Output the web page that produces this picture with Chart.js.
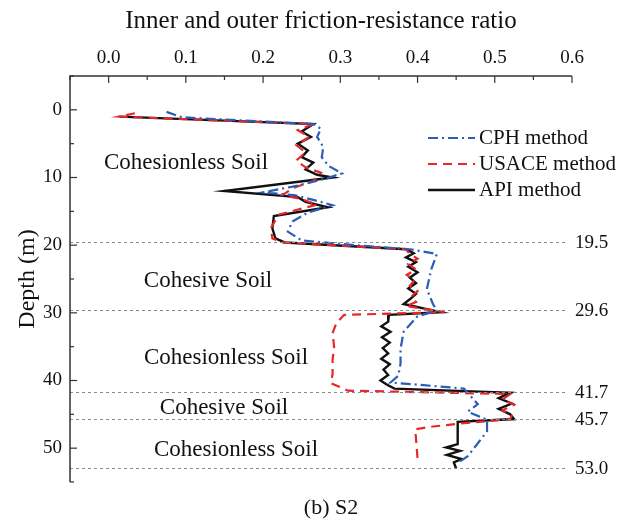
<!DOCTYPE html>
<html>
<head>
<meta charset="utf-8">
<script src="https://cdn.jsdelivr.net/npm/chart.js@4.4.1/dist/chart.umd.min.js"></script>
<style>
  html, body { margin: 0; padding: 0; background: #fff; }
  #wrap { width: 622px; height: 520px; }
</style>
</head>
<body>
<div id="wrap"><canvas id="chart" width="622" height="520"></canvas></div>
<script>
// depth (m) and friction-resistance ratio
const cphDepth = [0.3, 1.1, 2.1, 2.8, 4.0, 5.5, 7.0, 8.3, 9.4, 10.2, 11.2, 12.2, 12.6, 13.3, 14.1, 15.2, 16.5, 18.0, 19.3, 20.0, 20.6, 21.3, 23.5, 26.5, 28.7, 29.7, 30.5, 32.8, 35.3, 37.5, 39.3, 40.3, 40.8, 41.2, 43.5, 44.6, 45.8, 47.5, 51.2, 52.2];
const cphRatio = [0.075, 0.095, 0.265, 0.275, 0.27, 0.278, 0.276, 0.285, 0.302, 0.28, 0.245, 0.2, 0.24, 0.265, 0.29, 0.258, 0.238, 0.232, 0.25, 0.32, 0.39, 0.425, 0.418, 0.412, 0.42, 0.425, 0.4, 0.382, 0.378, 0.378, 0.375, 0.365, 0.42, 0.46, 0.478, 0.465, 0.49, 0.49, 0.465, 0.452];

const usaceDepth = [0.5, 1.0, 1.6, 2.1, 3.0, 4.0, 5.2, 6.3, 7.5, 8.5, 9.3, 10.5, 11.5, 12.6, 13.2, 14.0, 15.5, 17.5, 19.0, 19.6, 20.6, 21.3, 22.0, 22.8, 23.6, 24.4, 25.2, 26.0, 26.8, 27.6, 28.4, 29.0, 29.9, 30.3, 31.5, 33.0, 35.0, 37.0, 39.0, 40.4, 41.5, 42.0, 42.8, 43.6, 44.4, 45.2, 45.7, 46.4, 46.8, 47.2, 51.5];
const usaceRatio = [0.034, 0.014, 0.15, 0.265, 0.245, 0.26, 0.243, 0.255, 0.243, 0.255, 0.275, 0.265, 0.24, 0.225, 0.25, 0.27, 0.22, 0.21, 0.212, 0.225, 0.385, 0.39, 0.4, 0.388, 0.398, 0.386, 0.396, 0.39, 0.4, 0.392, 0.398, 0.385, 0.435, 0.305, 0.295, 0.29, 0.292, 0.29, 0.29, 0.288, 0.31, 0.52, 0.51, 0.525, 0.51, 0.522, 0.52, 0.452, 0.42, 0.397, 0.4];

const apiDepth = [1.0, 1.6, 2.1, 3.2, 4.0, 5.0, 6.0, 7.0, 7.8, 8.8, 9.6, 10.0, 12.0, 12.9, 13.6, 14.4, 15.7, 17.5, 19.0, 19.6, 20.6, 21.2, 21.8, 22.5, 23.2, 24.0, 24.8, 25.6, 26.4, 27.2, 28.0, 28.7, 29.9, 30.3, 31.3, 32.0, 32.8, 33.6, 34.4, 35.2, 36.0, 36.8, 37.6, 38.4, 39.2, 40.0, 40.6, 41.2, 41.8, 42.6, 43.4, 44.2, 45.0, 45.7, 46.1, 49.4, 49.9, 50.4, 51.0, 51.6, 52.1, 53.0];
const apiRatio = [0.014, 0.15, 0.265, 0.25, 0.262, 0.245, 0.258, 0.25, 0.265, 0.255, 0.27, 0.29, 0.15, 0.245, 0.255, 0.284, 0.214, 0.212, 0.216, 0.228, 0.385, 0.395, 0.385, 0.398, 0.388, 0.4, 0.39, 0.398, 0.388, 0.398, 0.39, 0.382, 0.43, 0.363, 0.362, 0.353, 0.365, 0.354, 0.364, 0.355, 0.362, 0.353, 0.364, 0.356, 0.362, 0.352, 0.36, 0.37, 0.52, 0.505, 0.522, 0.505, 0.52, 0.525, 0.452, 0.452, 0.437, 0.455, 0.438, 0.457, 0.447, 0.45];

const layerDepths = [19.5, 29.6, 41.7, 45.7, 53.0];
const soilNames = ['Cohesionless Soil', 'Cohesive Soil', 'Cohesionless Soil', 'Cohesive Soil', 'Cohesionless Soil'];
const xTicks = [0, 0.1, 0.2, 0.3, 0.4, 0.5, 0.6];
const yTicks = [0, 10, 20, 30, 40, 50];

// where the soil names sit (pixel centres)
const soilPos = [[186, 163], [208, 281], [226, 358], [224, 408], [236, 450]];

const SERIF = '"Liberation Serif", "Times New Roman", serif';

function pts(d, r) {
  return d.map((v, i) => ({ x: r[i], y: v }));
}

const overlay = {
  id: 'overlay',
  afterDraw(chart) {
    const ctx = chart.ctx;
    const a = chart.chartArea;
    const xs = chart.scales.x, ys = chart.scales.y;
    ctx.save();

    // layer boundaries
    ctx.strokeStyle = '#8a8a8a';
    ctx.lineWidth = 1;
    ctx.setLineDash([3, 3]);
    ctx.font = '19px ' + SERIF;
    ctx.fillStyle = '#111';
    ctx.textAlign = 'left';
    ctx.textBaseline = 'middle';
    layerDepths.forEach(d => {
      const y = Math.round(ys.getPixelForValue(d)) + 0.5;
      ctx.beginPath();
      ctx.moveTo(a.left, y);
      ctx.lineTo(568, y);
      ctx.stroke();
      ctx.fillText(d.toFixed(1), 575, y + 1);
    });
    ctx.setLineDash([]);

    // axes with inward ticks
    ctx.strokeStyle = '#333';
    ctx.lineWidth = 1.5;
    ctx.beginPath();
    ctx.moveTo(a.left, a.bottom);
    ctx.lineTo(a.left, a.top);
    ctx.lineTo(a.right, a.top);
    ctx.stroke();
    ctx.lineWidth = 1.2;
    for (let v = -0.05; v <= 0.601; v += 0.05) {
      const x = xs.getPixelForValue(v);
      const major = Math.abs(v * 10 - Math.round(v * 10)) < 0.01;
      ctx.beginPath();
      ctx.moveTo(x, a.top);
      ctx.lineTo(x, a.top + (major ? 7 : 4));
      ctx.stroke();
    }
    for (let v = -5; v <= 55; v += 5) {
      const y = ys.getPixelForValue(v);
      const major = v % 10 === 0;
      ctx.beginPath();
      ctx.moveTo(a.left, y);
      ctx.lineTo(a.left + (major ? 7 : 4), y);
      ctx.stroke();
    }

    // soil names
    ctx.fillStyle = '#111';
    ctx.font = '23px ' + SERIF;
    ctx.textAlign = 'center';
    ctx.textBaseline = 'middle';
    soilNames.forEach((s, i) => ctx.fillText(s, soilPos[i][0], soilPos[i][1]));

    // legend
    ctx.font = '21px ' + SERIF;
    ctx.textAlign = 'left';
    chart.data.datasets.forEach((ds, i) => {
      const y = 138 + i * 26;
      ctx.strokeStyle = ds.borderColor;
      ctx.lineWidth = ds.borderWidth;
      ctx.setLineDash(ds.borderDash || []);
      ctx.beginPath();
      ctx.moveTo(428, y);
      ctx.lineTo(475, y);
      ctx.stroke();
      ctx.setLineDash([]);
      ctx.fillText(ds.label, 479, y);
    });

    // titles
    ctx.font = '25px ' + SERIF;
    ctx.textAlign = 'center';
    ctx.fillText('Inner and outer friction-resistance ratio', (a.left + a.right) / 2, 21);
    ctx.font = '22px ' + SERIF;
    ctx.fillText('(b) S2', 331, 508);
    ctx.translate(28, (a.top + a.bottom) / 2);
    ctx.rotate(-Math.PI / 2);
    ctx.font = '24px ' + SERIF;
    ctx.fillText('Depth (m)', 0, 0);
    ctx.restore();
  }
};

new Chart(document.getElementById('chart'), {
  type: 'scatter',
  data: {
    datasets: [
      { label: 'CPH method', data: pts(cphDepth, cphRatio), borderColor: '#2a5cb8', borderWidth: 2.2, borderDash: [10, 4, 2, 4] },
      { label: 'USACE method', data: pts(usaceDepth, usaceRatio), borderColor: '#e8262b', borderWidth: 2.2, borderDash: [9, 6] },
      { label: 'API method', data: pts(apiDepth, apiRatio), borderColor: '#111', borderWidth: 2.4 }
    ].map(ds => Object.assign(ds, { showLine: true, pointRadius: 0, fill: false, tension: 0 }))
  },
  options: {
    responsive: false,
    animation: false,
    layout: { padding: { left: 0, top: 0, right: 50, bottom: 38 } },
    plugins: { legend: { display: false }, tooltip: { enabled: false } },
    scales: {
      x: {
        type: 'linear', position: 'top', min: -0.05, max: 0.6,
        afterBuildTicks: s => { s.ticks = xTicks.map(v => ({ value: v })); },
        afterFit: s => { s.height = 76; },
        grid: { display: false, drawTicks: false },
        border: { display: false },
        ticks: { padding: 7, color: '#111', font: { family: SERIF, size: 19 }, callback: v => v.toFixed(1) }
      },
      y: {
        type: 'linear', reverse: true, min: -5, max: 55,
        afterBuildTicks: s => { s.ticks = yTicks.map(v => ({ value: v })); },
        afterFit: s => { s.width = 70; },
        grid: { display: false, drawTicks: false },
        border: { display: false },
        ticks: { padding: 8, color: '#111', font: { family: SERIF, size: 19 }, callback: v => String(v) }
      }
    }
  },
  plugins: [overlay]
});
</script>
</body>
</html>
